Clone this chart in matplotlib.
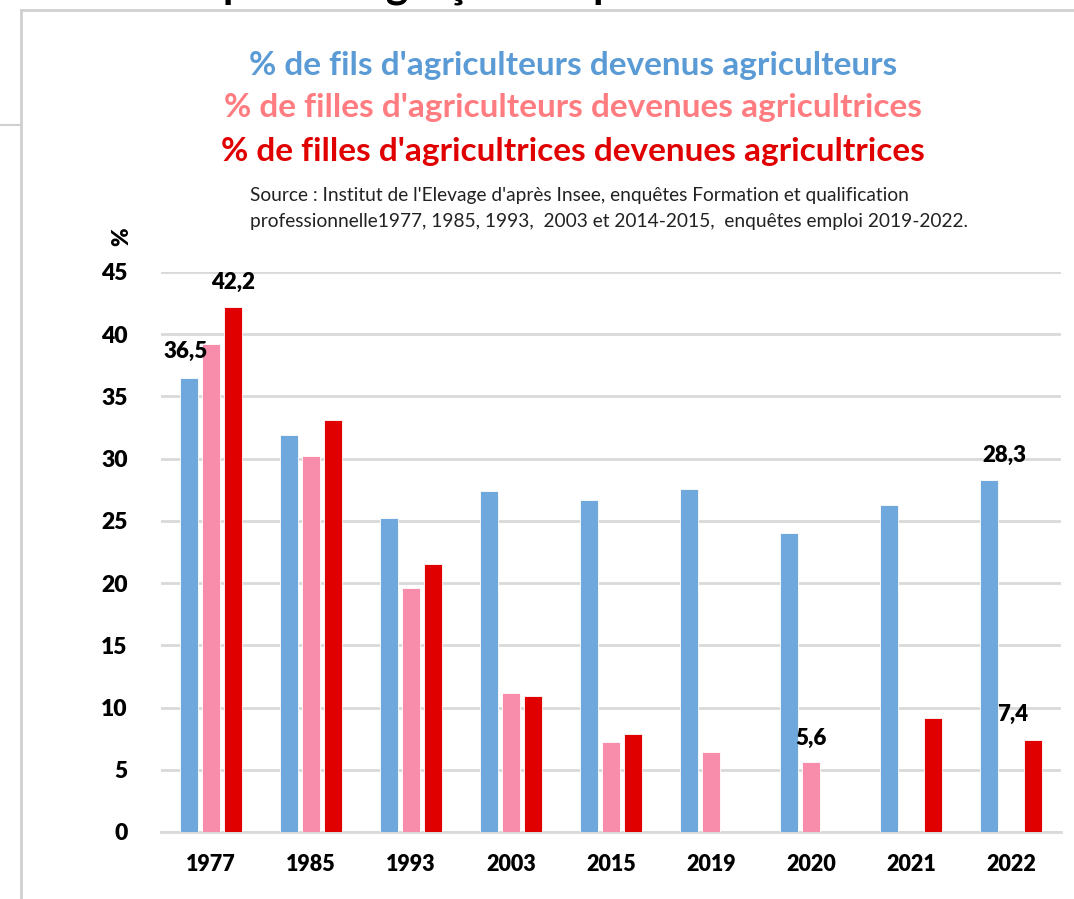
import matplotlib
matplotlib.use("Agg")
import matplotlib.pyplot as plt
from matplotlib.lines import Line2D
import numpy as np

years = ["1977", "1985", "1993", "2003", "2015", "2019", "2020", "2021", "2022"]
fils = [36.5, 31.9, 25.2, 27.4, 26.7, 27.6, 24.0, 26.3, 28.3]
filles_agriculteurs = [39.2, 30.2, 19.6, 11.2, 7.2, 6.4, 5.6, np.nan, np.nan]
filles_agricultrices = [42.2, 33.1, 21.5, 10.9, 7.9, np.nan, np.nan, 9.2, 7.4]

title_lines = [
    "% de fils d'agriculteurs devenus agriculteurs",
    "% de filles d'agriculteurs devenues agricultrices",
    "% de filles d'agricultrices devenues agricultrices",
]
source_lines = [
    "Source : Institut de l'Elevage d'après Insee, enquêtes Formation et qualification",
    "professionnelle1977, 1985, 1993,  2003 et 2014-2015,  enquêtes emploi 2019-2022.",
]
top_text = "Stabilité pour les garçons depuis 1993"

c_blue, c_pink, c_red = "#6FA8DC", "#F78DAA", "#E00000"
t_blue, t_pink, t_red = "#5B9BD5", "#FF7C80", "#E00000"

plt.rcParams['font.family'] = ['Lato', 'DejaVu Sans']

fig = plt.figure(figsize=(10.74, 8.99), dpi=100)
ax = fig.add_axes([161/1074, 67/899, 900/1074, 560/899])

x = np.arange(len(years))
w = 0.175
off = 0.22
ax.bar(x - off, fils, w, color=c_blue, edgecolor="white", linewidth=0.6, zorder=3)
ax.bar(x, filles_agriculteurs, w, color=c_pink, edgecolor="white", linewidth=0.6, zorder=3)
ax.bar(x + off, filles_agricultrices, w, color=c_red, edgecolor="white", linewidth=0.6, zorder=3)

ax.set_xlim(-0.5, len(years) - 0.5)
ax.set_ylim(0, 45)
ax.set_yticks(range(0, 46, 5))
ax.set_xticks(x)
ax.set_xticklabels(years, fontsize=15.5, fontweight="heavy")
ax.tick_params(axis="y", length=0, pad=24, labelsize=16.5)
ax.tick_params(axis="x", length=0, pad=16)
for lab in ax.get_yticklabels():
    lab.set_fontweight("heavy")
ax.yaxis.grid(True, color="#D9D9D9", linewidth=2, zorder=0)
ax.set_axisbelow(True)
for s in ["top", "right", "left"]:
    ax.spines[s].set_visible(False)
ax.spines["bottom"].set_color("#D9D9D9")
ax.spines["bottom"].set_linewidth(2)

lbl = dict(fontsize=16, fontweight="heavy", ha="center", va="bottom", zorder=5)
ax.text(x[0] - off - 0.03, fils[0] + 1.3, "36,5", **lbl)
ax.text(x[0] + off, filles_agricultrices[0] + 1.1, "42,2", **lbl)
ax.text(x[8] - off + 0.15, fils[8] + 1.1, "28,3", **lbl)
ax.text(x[6], filles_agriculteurs[6] + 1.1, "5,6", **lbl)
ax.text(x[8] + off - 0.2, filles_agricultrices[8] + 1.2, "7,4", **lbl)

fig.text(122/1074, 1 - 237/899, "%", rotation=90, fontsize=16, fontweight="heavy",
         ha="center", va="center")

for txt, col, yp in zip(title_lines, [t_blue, t_pink, t_red], [66, 107, 152]):
    fig.text(573/1074, 1 - yp/899, txt, color=col, fontsize=24, fontweight="bold",
             ha="center", va="center")
for txt, yp in zip(source_lines, [195, 222]):
    fig.text(250/1074, 1 - yp/899, txt, color="#222222", fontsize=13.8,
             ha="left", va="center")

fig.text(55/1074, 1 + 2/899, top_text, fontsize=31, fontweight="bold",
         ha="left", va="baseline", color="black")

# frame lines
fig.add_artist(Line2D([21/1074, 1], [1 - 10/899, 1 - 10/899], color="#D0D0D0", lw=2,
                      transform=fig.transFigure))
fig.add_artist(Line2D([21/1074, 21/1074], [1 - 10/899, 0], color="#D0D0D0", lw=2,
                      transform=fig.transFigure))
fig.add_artist(Line2D([0, 21/1074], [1 - 125/899, 1 - 125/899], color="#D0D0D0", lw=1.5,
                      transform=fig.transFigure))

fig.savefig("out.png", dpi=100)
